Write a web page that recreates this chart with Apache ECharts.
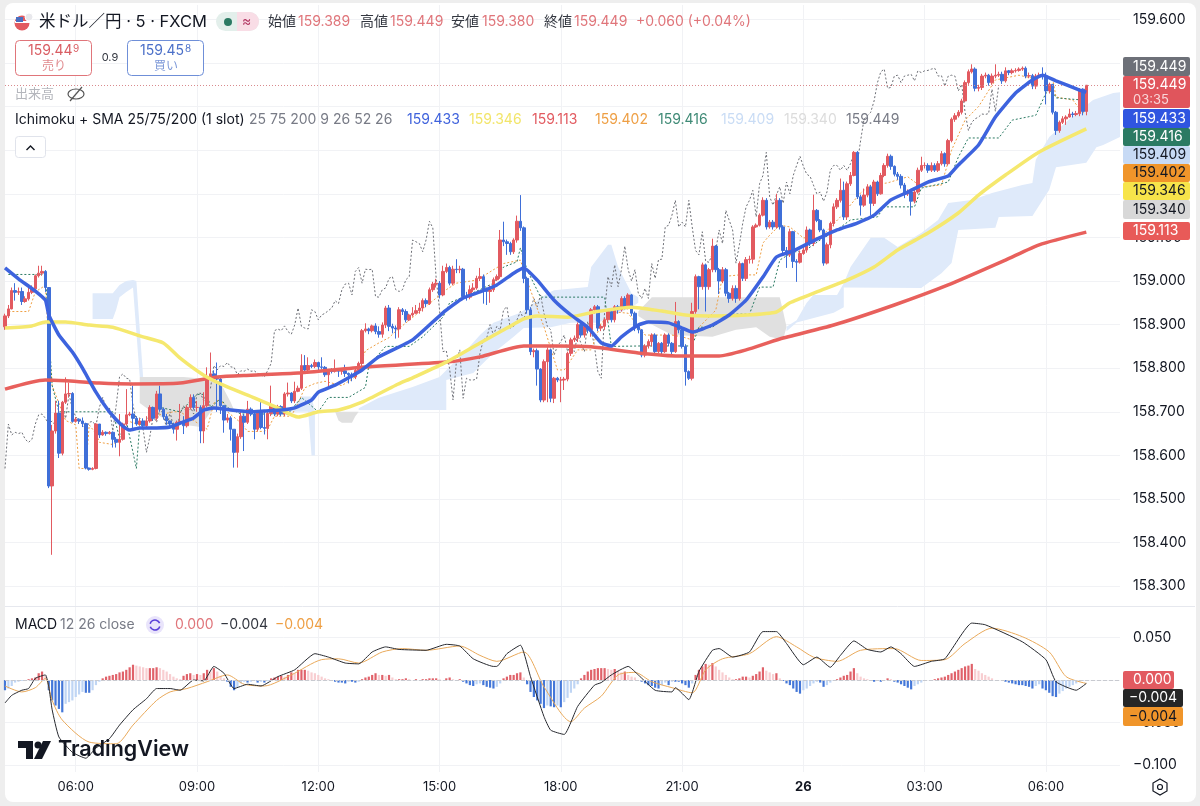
<!DOCTYPE html>
<html lang="ja">

<head>
    <meta charset="UTF-8">
    <title>米ドル／円 · 5 · FXCM</title>
    <script src="https://cdn.jsdelivr.net/npm/echarts@6/dist/echarts.min.js"></script>
    <style>
        html, body { margin: 0; padding: 0; background: #eeeeee; }
        #card { position: absolute; left: 5px; top: 3px; width: 1191px; height: 799px; background: #fff; border-radius: 8px; }
        #main { position: absolute; left: 0; top: 0; width: 1200px; height: 806px; }
    </style>
</head>

<body>
    <div id="card"></div>
    <div id="main"></div>
</body>

<script>
    // candles, 5 minute bars from 04:15
    const opens = [
        158.895,158.920,158.936,158.978,158.974,158.976,158.953,158.959,158.974,158.982,
        159.012,159.018,159.022,158.985,158.530,158.656,158.697,158.605,158.722,158.741,
        158.742,158.678,158.683,158.679,158.673,158.571,158.568,158.570,158.672,158.647,
        158.653,158.650,158.653,158.637,158.630,158.637,158.672,158.693,158.695,158.685,
        158.672,158.679,158.668,158.679,158.710,158.685,158.741,158.706,158.689,158.679,
        158.672,158.660,158.676,158.678,158.668,158.710,158.733,158.710,158.710,158.656,
        158.714,158.780,158.787,158.777,158.775,158.714,158.681,158.686,158.660,158.607,
        158.643,158.690,158.676,158.706,158.695,158.660,158.700,158.664,158.662,158.696,
        158.714,158.695,158.712,158.695,158.741,158.743,158.725,158.747,158.754,158.806,
        158.796,158.806,158.804,158.813,158.803,158.802,158.785,158.794,158.793,158.798,
        158.793,158.794,158.788,158.785,158.780,158.795,158.811,158.886,158.890,158.886,
        158.897,158.884,158.878,158.899,158.938,158.896,158.892,158.890,158.934,158.930,
        158.911,158.922,158.926,158.932,158.938,158.955,158.948,158.980,158.993,158.995,
        158.968,159.022,159.031,158.995,159.027,159.026,159.027,158.964,158.963,158.980,
        158.984,159.006,159.010,158.980,158.976,158.980,159.003,159.010,159.094,159.090,
        159.086,159.067,159.094,159.137,159.122,159.006,158.934,158.838,158.840,158.798,
        158.727,158.815,158.842,158.731,158.777,158.773,158.773,158.775,158.834,158.865,
        158.869,158.900,158.876,158.896,158.888,158.934,158.941,158.892,158.896,158.911,
        158.930,158.911,158.941,158.934,158.960,158.941,158.968,158.926,158.896,158.888,
        158.830,158.851,158.861,158.876,158.838,158.857,158.838,158.876,158.857,158.838,
        158.907,158.888,158.850,158.792,158.777,158.930,159.010,158.987,159.037,158.987,
        159.026,159.080,159.026,159.000,159.026,158.972,158.960,158.983,158.960,159.040,
        159.006,159.049,159.050,159.124,159.128,159.151,159.185,159.124,159.135,159.124,
        159.185,159.124,159.070,159.060,159.113,159.045,159.043,159.063,159.071,159.117,
        159.086,159.162,159.139,159.117,159.041,159.083,159.132,159.170,159.185,159.208,
        159.147,159.223,159.242,159.295,159.193,159.174,159.197,159.216,159.178,159.227,
        159.200,159.242,159.265,159.286,159.263,159.245,159.240,159.220,159.200,159.204,
        159.183,159.204,159.254,159.265,159.265,159.254,159.265,159.254,159.269,159.292,
        159.269,159.322,159.371,159.379,159.387,159.413,159.455,159.480,159.486,159.442,
        159.444,159.470,159.472,159.455,159.470,159.472,159.474,159.459,159.482,159.478,
        159.482,159.483,159.486,159.488,159.470,159.471,159.447,159.470,159.472,159.470,
        159.436,159.451,159.387,159.345,159.364,159.372,159.376,159.383,159.382,159.384,
        159.440,159.389
    ];
    const closes = [
        158.920,158.936,158.978,158.974,158.976,158.953,158.959,158.974,158.982,159.012,
        159.018,159.022,158.985,158.530,158.656,158.697,158.605,158.722,158.741,158.742,
        158.678,158.683,158.679,158.673,158.571,158.568,158.570,158.672,158.647,158.653,
        158.650,158.653,158.637,158.630,158.637,158.672,158.693,158.695,158.685,158.672,
        158.679,158.668,158.679,158.710,158.685,158.741,158.706,158.689,158.679,158.672,
        158.660,158.676,158.678,158.668,158.710,158.733,158.710,158.710,158.656,158.714,
        158.780,158.787,158.777,158.775,158.714,158.681,158.686,158.660,158.607,158.643,
        158.690,158.676,158.706,158.695,158.660,158.700,158.664,158.662,158.696,158.714,
        158.695,158.712,158.695,158.741,158.743,158.725,158.747,158.754,158.806,158.796,
        158.806,158.804,158.813,158.803,158.802,158.785,158.794,158.793,158.798,158.793,
        158.794,158.788,158.785,158.780,158.795,158.811,158.886,158.890,158.886,158.897,
        158.884,158.878,158.899,158.938,158.896,158.892,158.890,158.934,158.930,158.911,
        158.922,158.926,158.932,158.938,158.955,158.948,158.980,158.993,158.995,158.968,
        159.022,159.031,158.995,159.027,159.026,159.027,158.964,158.963,158.980,158.984,
        159.006,159.010,158.980,158.976,158.980,159.003,159.010,159.094,159.090,159.086,
        159.067,159.094,159.137,159.122,159.006,158.934,158.838,158.840,158.798,158.727,
        158.815,158.842,158.731,158.777,158.773,158.773,158.775,158.834,158.865,158.869,
        158.900,158.876,158.896,158.888,158.934,158.941,158.892,158.896,158.911,158.930,
        158.911,158.941,158.934,158.960,158.941,158.968,158.926,158.896,158.888,158.830,
        158.851,158.861,158.876,158.838,158.857,158.838,158.876,158.857,158.838,158.907,
        158.888,158.850,158.792,158.777,158.930,159.010,158.987,159.037,158.987,159.026,
        159.080,159.026,159.000,159.026,158.972,158.960,158.983,158.960,159.040,159.006,
        159.049,159.050,159.124,159.128,159.151,159.185,159.124,159.135,159.124,159.185,
        159.124,159.070,159.060,159.113,159.045,159.043,159.063,159.071,159.117,159.086,
        159.162,159.139,159.117,159.041,159.083,159.132,159.170,159.185,159.208,159.147,
        159.223,159.242,159.295,159.193,159.174,159.197,159.216,159.178,159.227,159.200,
        159.242,159.265,159.286,159.263,159.245,159.240,159.220,159.200,159.204,159.183,
        159.204,159.254,159.265,159.265,159.254,159.265,159.254,159.269,159.292,159.269,
        159.322,159.371,159.379,159.387,159.413,159.455,159.480,159.486,159.442,159.444,
        159.470,159.472,159.455,159.470,159.472,159.474,159.459,159.482,159.478,159.482,
        159.483,159.486,159.488,159.470,159.471,159.447,159.470,159.472,159.470,159.436,
        159.451,159.387,159.345,159.364,159.372,159.376,159.383,159.382,159.384,159.440,
        159.389,159.449
    ];
    const lows = [
        158.888,158.915,158.935,158.955,158.968,158.945,158.950,158.955,158.970,158.980,
        159.008,159.012,158.975,158.525,158.372,158.650,158.594,158.600,158.718,158.733,
        158.675,158.675,158.672,158.665,158.568,158.565,158.566,158.568,158.640,158.645,
        158.645,158.648,158.618,158.618,158.598,158.634,158.668,158.690,158.660,158.668,
        158.668,158.660,158.665,158.675,158.680,158.680,158.700,158.682,158.670,158.665,
        158.650,158.634,158.672,158.649,158.664,158.705,158.705,158.700,158.628,158.628,
        158.710,158.775,158.770,158.700,158.695,158.652,158.675,158.634,158.572,158.572,
        158.638,158.610,158.672,158.690,158.637,158.655,158.660,158.648,158.637,158.690,
        158.690,158.690,158.690,158.690,158.735,158.720,158.720,158.745,158.750,158.790,
        158.790,158.800,158.800,158.795,158.797,158.780,158.757,158.788,158.790,158.780,
        158.785,158.780,158.765,158.770,158.775,158.790,158.805,158.882,158.878,158.882,
        158.878,158.870,158.870,158.892,158.885,158.880,158.868,158.870,158.922,158.905,
        158.908,158.918,158.925,158.925,158.930,158.940,158.945,158.975,158.985,158.960,
        158.965,159.018,158.990,158.990,159.018,159.018,158.958,158.955,158.958,158.975,
        158.980,159.000,158.948,158.945,158.950,158.975,159.000,159.005,159.080,159.060,
        159.060,159.062,159.088,159.115,158.995,158.925,158.830,158.825,158.760,158.722,
        158.722,158.722,158.722,158.720,158.768,158.722,158.750,158.770,158.828,158.860,
        158.860,158.870,158.870,158.880,158.872,158.925,158.885,158.885,158.888,158.905,
        158.905,158.905,158.925,158.930,158.935,158.935,158.920,158.885,158.880,158.825,
        158.825,158.845,158.850,158.832,158.835,158.832,158.835,158.850,158.832,158.835,
        158.880,158.845,158.760,158.773,158.772,158.925,158.935,158.980,158.930,158.980,
        159.020,159.020,158.970,158.995,158.965,158.950,158.955,158.950,158.955,159.000,
        159.000,159.040,159.040,159.122,159.125,159.148,159.118,159.120,159.118,159.120,
        159.118,159.062,159.030,159.055,159.030,158.998,159.040,159.060,159.065,159.080,
        159.080,159.135,159.112,159.035,159.038,159.075,159.125,159.165,159.180,159.140,
        159.140,159.218,159.240,159.188,159.150,159.170,159.192,159.150,159.172,159.195,
        159.198,159.238,159.260,159.255,159.240,159.232,159.212,159.190,159.195,159.150,
        159.178,159.200,159.250,159.258,159.248,159.250,159.250,159.250,159.265,159.262,
        159.265,159.318,159.365,159.375,159.382,159.410,159.450,159.476,159.435,159.435,
        159.438,159.465,159.448,159.450,159.465,159.468,159.452,159.455,159.472,159.474,
        159.478,159.480,159.482,159.465,159.465,159.440,159.440,159.465,159.462,159.405,
        159.430,159.382,159.335,159.340,159.360,159.358,159.375,159.375,159.378,159.378,
        159.380,159.380
    ];
    const highs = [
        158.925,158.945,158.985,158.995,158.985,158.985,158.965,158.985,158.990,159.015,
        159.035,159.035,159.025,158.985,158.670,158.725,158.725,158.725,158.779,158.767,
        158.745,158.688,158.685,158.687,158.675,158.572,158.573,158.674,158.672,158.658,
        158.655,158.656,158.655,158.642,158.695,158.675,158.752,158.700,158.760,158.690,
        158.685,158.685,158.690,158.715,158.712,158.748,158.760,158.710,158.695,158.680,
        158.675,158.680,158.718,158.690,158.715,158.740,158.740,158.725,158.715,158.745,
        158.802,158.836,158.795,158.813,158.778,158.715,158.695,158.690,158.660,158.650,
        158.700,158.695,158.725,158.710,158.700,158.703,158.725,158.700,158.700,158.760,
        158.715,158.716,158.715,158.745,158.767,158.745,158.769,158.760,158.832,158.830,
        158.825,158.810,158.820,158.815,158.825,158.805,158.797,158.800,158.820,158.800,
        158.800,158.808,158.790,158.790,158.800,158.815,158.890,158.903,158.893,158.900,
        158.903,158.896,158.905,158.943,158.945,158.902,158.898,158.940,158.938,158.935,
        158.925,158.940,158.945,158.950,158.960,158.960,158.985,158.998,159.005,159.000,
        159.035,159.040,159.035,159.035,159.050,159.035,159.030,158.975,158.990,158.995,
        159.012,159.030,159.015,158.985,158.990,159.008,159.015,159.117,159.136,159.095,
        159.090,159.098,159.150,159.197,159.125,159.010,158.940,158.845,158.845,158.800,
        158.820,158.848,158.845,158.780,158.780,158.780,158.780,158.838,158.870,158.875,
        158.905,158.905,158.900,158.900,158.938,158.945,158.945,158.900,158.915,158.935,
        158.935,158.945,158.945,158.965,158.965,158.972,158.970,158.930,158.895,158.890,
        158.855,158.866,158.880,158.880,158.860,158.860,158.880,158.880,158.860,158.952,
        158.910,158.890,158.855,158.795,158.950,159.015,159.012,159.042,159.040,159.030,
        159.097,159.082,159.030,159.032,159.030,158.975,158.990,158.990,159.045,159.042,
        159.055,159.058,159.128,159.132,159.155,159.192,159.190,159.140,159.140,159.200,
        159.190,159.128,159.078,159.120,159.115,159.050,159.070,159.078,159.125,159.120,
        159.198,159.165,159.142,159.120,159.088,159.136,159.178,159.190,159.235,159.228,
        159.228,159.250,159.298,159.298,159.198,159.212,159.222,159.220,159.232,159.230,
        159.248,159.270,159.292,159.290,159.265,159.250,159.245,159.225,159.210,159.205,
        159.210,159.260,159.285,159.272,159.270,159.272,159.270,159.275,159.298,159.295,
        159.326,159.375,159.385,159.392,159.418,159.460,159.485,159.497,159.490,159.450,
        159.475,159.478,159.475,159.476,159.497,159.480,159.480,159.490,159.484,159.487,
        159.488,159.490,159.492,159.492,159.478,159.475,159.475,159.478,159.490,159.478,
        159.455,159.452,159.390,159.368,159.378,159.380,159.395,159.388,159.390,159.442,
        159.442,159.449
    ];

    // moving averages, [bar index, price] read at the bends of each curve
    const sma25 = [[0,159.030],[4,159.005],[9,158.977],[12,158.956],[13,158.922],[16,158.876],[20,158.837],[23,158.800],[27,158.745],[31,158.700],[35,158.667],[37,158.658],[40,158.663],[45,158.663],[49,158.665],[53,158.677],[56,158.686],[59,158.704],[62,158.709],[67,158.704],[73,158.700],[77,158.702],[82,158.704],[86,158.709],[91,158.727],[93,158.745],[98,158.761],[102,158.778],[106,158.796],[111,158.826],[121,158.865],[130,158.927],[136,158.961],[141,158.975],[146,158.991],[151,159.018],[154,159.030],[158,159.002],[163,158.956],[168,158.922],[173,158.894],[177,158.858],[180,158.851],[183,158.872],[188,158.899],[191,158.906],[197,158.904],[201,158.892],[204,158.883],[210,158.899],[215,158.922],[220,158.956],[225,159.009],[229,159.055],[234,159.069],[240,159.092],[247,159.117],[253,159.133],[258,159.151],[263,159.186],[268,159.204],[274,159.227],[280,159.241],[283,159.266],[289,159.312],[294,159.376],[300,159.431],[305,159.461],[308,159.472],[312,159.459],[319,159.438],[321,159.433]];
    const sma75 = [[0,158.892],[8,158.897],[12,158.906],[18,158.906],[25,158.899],[32,158.894],[40,158.874],[47,158.858],[52,158.823],[59,158.784],[66,158.757],[74,158.732],[81,158.709],[87,158.688],[93,158.700],[99,158.704],[106,158.722],[116,158.761],[121,158.778],[131,158.814],[141,158.858],[149,158.892],[154,158.913],[158,158.920],[167,158.917],[175,158.929],[186,158.940],[195,158.931],[202,158.922],[209,158.920],[220,158.922],[229,158.929],[233,158.950],[241,158.975],[250,159.002],[258,159.032],[265,159.071],[274,159.110],[283,159.156],[289,159.197],[297,159.243],[307,159.296],[321,159.349]];
    const sma200 = [[0,158.752],[12,158.773],[18,158.771],[28,158.766],[38,158.764],[52,158.766],[63,158.780],[73,158.784],[87,158.789],[97,158.796],[107,158.803],[131,158.814],[141,158.826],[154,158.851],[164,158.851],[174,158.849],[188,158.835],[200,158.828],[212,158.828],[220,158.842],[230,158.867],[246,158.899],[264,158.945],[280,158.991],[297,159.048],[307,159.083],[321,159.112]];

    // ichimoku lines
    const conversionLine = [[1,158.930],[7,158.930],[9,158.975],[12,158.990],[13,158.850],[14,158.760],[18,158.680],[21,158.670],[22,158.570],[24,158.570],[25,158.670],[27,158.650],[28,158.630],[32,158.625],[35,158.640],[36,158.680],[40,158.670],[44,158.690],[50,158.700],[52,158.700],[56,158.680],[60,158.660],[62,158.720],[64,158.730],[66,158.700],[70,158.675],[72,158.655],[77,158.655],[78,158.660],[80,158.690],[85,158.690],[87,158.720],[89,158.755],[92,158.765],[95,158.770],[100,158.760],[104,158.780],[106,158.820],[107,158.840],[111,158.858],[114,158.870],[116,158.885],[120,158.910],[131,158.980],[134,158.995],[140,159.002],[148,159.040],[153,159.048],[155,159.000],[160,158.895],[164,158.796],[166,158.796],[170,158.842],[174,158.842],[177,158.904],[181,158.929],[185,158.926],[190,158.876],[198,158.876],[201,158.872],[204,158.865],[206,158.894],[211,158.933],[213,159.010],[218,159.014],[223,159.014],[225,159.087],[227,159.105],[230,159.128],[233,159.124],[237,159.099],[242,159.099],[248,159.147],[254,159.202],[257,159.220],[262,159.225],[268,159.239],[272,159.216],[278,159.220],[281,159.300],[285,159.369],[289,159.400],[294,159.461],[301,159.472],[305,159.465],[308,159.472],[311,159.465],[312,159.422],[317,159.415],[320,159.385],[321,159.402]];
    const baseLine = [[1,159.015],[12,159.015],[14,158.760],[16,158.700],[32,158.700],[34,158.640],[36,158.680],[39,158.570],[40,158.670],[46,158.710],[52,158.700],[57,158.740],[60,158.740],[61,158.710],[64,158.730],[66,158.710],[70,158.695],[84,158.695],[88,158.733],[93,158.700],[96,158.733],[102,158.733],[107,158.756],[108,158.806],[113,158.850],[120,158.850],[124,158.872],[130,158.917],[132,158.950],[135,158.960],[141,158.980],[145,158.995],[148,159.032],[152,159.044],[153,159.076],[155,159.025],[159,158.963],[178,158.963],[180,158.850],[189,158.851],[204,158.851],[206,158.894],[210,158.894],[215,158.924],[221,158.924],[224,158.986],[228,158.986],[230,159.048],[234,159.067],[237,159.067],[242,159.094],[246,159.112],[251,159.140],[259,159.147],[261,159.170],[270,159.170],[272,159.213],[280,159.227],[283,159.284],[286,159.328],[295,159.328],[299,159.369],[306,159.380],[309,159.431],[311,159.436],[312,159.420],[320,159.415],[321,159.416]];
    const laggingSpan = [
        158.570,158.672,158.647,158.653,158.650,158.653,158.637,158.630,158.637,158.672,
        158.693,158.695,158.685,158.672,158.679,158.668,158.679,158.710,158.685,158.741,
        158.706,158.689,158.679,158.672,158.660,158.676,158.678,158.668,158.710,158.733,
        158.710,158.710,158.656,158.714,158.780,158.787,158.777,158.775,158.714,158.681,
        158.686,158.660,158.607,158.643,158.690,158.676,158.706,158.695,158.660,158.700,
        158.664,158.662,158.696,158.714,158.695,158.712,158.695,158.741,158.743,158.725,
        158.747,158.754,158.806,158.796,158.806,158.804,158.813,158.803,158.802,158.785,
        158.794,158.793,158.798,158.793,158.794,158.788,158.785,158.780,158.795,158.811,
        158.886,158.890,158.886,158.897,158.884,158.878,158.899,158.938,158.896,158.892,
        158.890,158.934,158.930,158.911,158.922,158.926,158.932,158.938,158.955,158.948,
        158.980,158.993,158.995,158.968,159.022,159.031,158.995,159.027,159.026,159.027,
        158.964,158.963,158.980,158.984,159.006,159.010,158.980,158.976,158.980,159.003,
        159.010,159.094,159.090,159.086,159.067,159.094,159.137,159.122,159.006,158.934,
        158.838,158.840,158.798,158.727,158.815,158.842,158.731,158.777,158.773,158.773,
        158.775,158.834,158.865,158.869,158.900,158.876,158.896,158.888,158.934,158.941,
        158.892,158.896,158.911,158.930,158.911,158.941,158.934,158.960,158.941,158.968,
        158.926,158.896,158.888,158.830,158.851,158.861,158.876,158.838,158.857,158.838,
        158.876,158.857,158.838,158.907,158.888,158.850,158.792,158.777,158.930,159.010,
        158.987,159.037,158.987,159.026,159.080,159.026,159.000,159.026,158.972,158.960,
        158.983,158.960,159.040,159.006,159.049,159.050,159.124,159.128,159.151,159.185,
        159.124,159.135,159.124,159.185,159.124,159.070,159.060,159.113,159.045,159.043,
        159.063,159.071,159.117,159.086,159.162,159.139,159.117,159.041,159.083,159.132,
        159.170,159.185,159.208,159.147,159.223,159.242,159.295,159.193,159.174,159.197,
        159.216,159.178,159.227,159.200,159.242,159.265,159.286,159.263,159.245,159.240,
        159.220,159.200,159.204,159.183,159.204,159.254,159.265,159.265,159.254,159.265,
        159.254,159.269,159.292,159.269,159.322,159.371,159.379,159.387,159.413,159.455,
        159.480,159.486,159.442,159.444,159.470,159.472,159.455,159.470,159.472,159.474,
        159.459,159.482,159.478,159.482,159.483,159.486,159.488,159.470,159.471,159.447,
        159.470,159.472,159.470,159.436,159.451,159.387,159.345,159.364,159.372,159.376,
        159.383,159.382,159.384,159.440,159.389,159.449
    ];

    // kumo pieces, upper edge then lower edge
    const blueCloudA = [[26,158.972],[32,158.972],[34,158.991],[36,159.000],[38,159.002],[39,159.000],[41,158.780],[40,158.780],[38,158.985],[36,158.975],[34,158.963],[33,158.934],[32,158.913],[26,158.913]];
    const greyCloudB = [[40,158.780],[53,158.780],[60,158.775],[64,158.766],[67,158.722],[68,158.704],[62,158.711],[58,158.665],[50,158.674],[44,158.697],[40,158.720]];
    const blueCloudC = [[85,158.705],[88,158.735],[91,158.735],[92,158.700],[92,158.600],[91,158.600],[90,158.700],[85,158.700]];
    const greyCloudD = [[98,158.700],[105,158.700],[104,158.690],[103,158.675],[100,158.675],[99,158.680]];
    const blueCloudE = [[105,158.708],[111,158.732],[121,158.757],[129,158.780],[137,158.842],[141,158.876],[145,158.904],[153,158.927],[161,158.972],[163,158.979],[173,158.986],[174,159.032],[179,159.083],[180,159.083],[182,159.032],[186,158.972],[188,158.963],[188,158.950],[186,158.940],[176,158.904],[168,158.904],[162,158.894],[154,158.892],[151,158.872],[145,158.835],[139,158.789],[131,158.773],[131,158.704],[111,158.704],[105,158.704]];
    const greyCloudF = [[188,158.930],[192,158.963],[230,158.963],[231,158.930],[232,158.895],[231,158.865],[227,158.872],[223,158.894],[217,158.888],[210,158.872],[198,158.876],[192,158.900],[188,158.920]];
    const blueCloudG = [[232,158.895],[235,158.910],[238,158.950],[240,158.968],[247,158.968],[249,158.995],[251,159.032],[257,159.099],[261,159.099],[265,159.078],[272,159.110],[277,159.140],[280,159.179],[287,159.186],[293,159.202],[302,159.220],[305,159.225],[306,159.278],[310,159.330],[318,159.385],[323,159.415],[329,159.431],[331,159.433],[331,159.330],[326,159.312],[324,159.307],[321,159.271],[312,159.261],[310,159.209],[305,159.149],[295,159.147],[294,159.122],[283,159.117],[281,159.041],[278,159.018],[272,158.984],[249,158.985],[249,158.940],[246,158.927],[235,158.905],[232,158.885]];

    // macd pane
    const macdLine = [[0,-0.027],[2,-0.018],[5,-0.012],[7,-0.010],[9,0.002],[12,0.006],[13,-0.008],[14,-0.035],[16,-0.067],[20,-0.085],[24,-0.092],[27,-0.080],[31,-0.069],[34,-0.053],[38,-0.035],[42,-0.022],[45,-0.010],[49,-0.010],[52,-0.012],[56,0.000],[59,-0.001],[62,0.016],[65,0.008],[68,-0.010],[72,-0.005],[76,-0.007],[81,0.004],[86,0.012],[92,0.031],[96,0.027],[101,0.020],[105,0.019],[109,0.033],[113,0.039],[117,0.036],[125,0.035],[131,0.042],[135,0.040],[139,0.025],[145,0.016],[146,0.016],[149,0.031],[153,0.041],[156,0.004],[160,-0.043],[162,-0.059],[166,-0.064],[170,-0.031],[175,-0.006],[177,-0.003],[180,0.006],[185,0.016],[188,0.006],[193,-0.012],[198,-0.014],[199,-0.009],[203,-0.023],[206,0.010],[210,0.035],[212,0.037],[216,0.027],[221,0.033],[225,0.057],[229,0.057],[232,0.043],[237,0.018],[241,0.027],[245,0.015],[248,0.029],[252,0.046],[256,0.036],[260,0.033],[263,0.039],[266,0.031],[270,0.016],[275,0.022],[279,0.025],[287,0.067],[291,0.065],[302,0.045],[309,0.024],[312,-0.002],[318,-0.012],[321,-0.004]];
    const signalLine = [[0,-0.007],[5,-0.014],[9,-0.009],[12,0.002],[14,-0.024],[17,-0.047],[25,-0.073],[33,-0.075],[38,-0.053],[45,-0.024],[49,-0.014],[54,-0.010],[60,-0.002],[66,0.006],[71,-0.005],[77,-0.007],[85,0.006],[94,0.024],[99,0.025],[105,0.020],[112,0.033],[118,0.037],[125,0.035],[135,0.040],[141,0.029],[146,0.022],[154,0.033],[160,-0.008],[168,-0.049],[172,-0.033],[177,-0.019],[182,0.006],[187,0.009],[192,-0.002],[198,-0.009],[204,-0.015],[208,0.012],[213,0.025],[221,0.031],[229,0.051],[235,0.039],[240,0.027],[247,0.022],[254,0.035],[264,0.037],[272,0.023],[279,0.024],[285,0.043],[293,0.061],[302,0.051],[310,0.033],[315,0.004],[321,-0.004]];
    const macdHist = [
        -0.012,-0.010,-0.007,-0.003,-0.002,-0.001,0.000,0.001,0.002,0.003,
        0.008,0.010,0.005,-0.012,-0.024,-0.030,-0.034,-0.038,-0.028,-0.026,
        -0.024,-0.020,-0.017,-0.014,-0.015,-0.015,-0.012,-0.006,-0.002,0.002,
        0.004,0.005,0.006,0.007,0.009,0.010,0.012,0.015,0.018,0.017,
        0.016,0.015,0.014,0.014,0.014,0.015,0.014,0.012,0.010,0.007,
        0.004,0.002,0.001,0.005,0.007,0.008,0.006,0.007,0.006,0.008,
        0.012,0.010,0.014,0.010,0.005,0.002,-0.002,-0.008,-0.012,-0.009,
        -0.004,-0.002,-0.003,-0.002,-0.001,-0.003,-0.002,-0.003,-0.001,0.002,
        0.003,0.004,0.005,0.004,0.006,0.009,0.008,0.012,0.012,0.012,
        0.011,0.009,0.008,0.006,0.004,0.002,0.001,-0.001,-0.002,-0.003,
        -0.003,-0.004,-0.002,-0.002,-0.003,-0.002,0.001,0.003,0.004,0.006,
        0.008,0.006,0.006,0.005,0.006,0.003,0.001,0.001,0.001,0.002,
        0.001,0.000,0.001,0.000,0.001,0.001,0.002,0.002,0.002,0.001,
        0.000,0.002,0.003,0.001,0.000,0.001,-0.002,-0.004,-0.006,-0.007,
        -0.005,-0.004,-0.006,-0.008,-0.009,-0.010,-0.008,-0.004,0.002,0.004,
        0.006,0.006,0.008,0.009,0.003,-0.005,-0.014,-0.020,-0.024,-0.028,
        -0.033,-0.030,-0.031,-0.032,-0.030,-0.032,-0.026,-0.021,-0.015,-0.010,
        -0.005,0.002,0.006,0.010,0.012,0.013,0.014,0.014,0.014,0.013,
        0.012,0.013,0.011,0.009,0.010,0.006,0.004,0.003,0.000,-0.002,
        -0.004,-0.006,-0.007,-0.009,-0.010,-0.006,-0.003,-0.006,-0.002,-0.002,
        -0.002,-0.004,-0.006,-0.009,-0.004,0.006,0.012,0.016,0.019,0.018,
        0.020,0.016,0.012,0.009,0.006,0.003,0.001,0.001,0.002,0.004,
        0.004,0.003,0.005,0.007,0.010,0.015,0.011,0.009,0.007,0.008,
        0.002,-0.001,-0.004,-0.006,-0.010,-0.014,-0.016,-0.012,-0.010,-0.007,
        -0.004,-0.002,-0.003,-0.008,-0.006,-0.003,-0.001,0.001,0.003,0.005,
        0.006,0.010,0.014,0.008,0.004,0.002,0.001,0.000,-0.002,-0.001,
        -0.002,-0.001,0.002,0.001,-0.002,-0.003,-0.005,-0.007,-0.009,-0.011,
        -0.007,-0.005,-0.003,-0.001,0.000,0.000,0.001,0.002,0.003,0.004,
        0.006,0.008,0.010,0.012,0.014,0.016,0.017,0.019,0.013,0.011,
        0.008,0.006,0.004,0.002,0.000,0.000,-0.001,-0.002,-0.003,-0.004,
        -0.005,-0.006,-0.006,-0.007,-0.008,-0.010,-0.007,-0.005,-0.010,-0.012,
        -0.015,-0.019,-0.020,-0.016,-0.013,-0.010,-0.008,-0.006,-0.004,-0.002,
        -0.001,0.000
    ];

    const priceTicks = [159.6, 159.5, 159.4, 159.3, 159.2, 159.1, 159.0, 158.9, 158.8, 158.7, 158.6, 158.5, 158.4, 158.3];
    // the labels from 159.500 to 159.200 sit behind the price tags
    const priceLabels = [159.6, 159.1, 159.0, 158.9, 158.8, 158.7, 158.6, 158.5, 158.4, 158.3];
    const macdTicks = [0.05, 0, -0.05, -0.1];
    const timeTicks = ['06:00', '09:00', '12:00', '15:00', '18:00', '21:00', '26', '03:00'];

    // time axis, 10 empty bars are left after the last candle
    var categories = [];
    for (let i = 0; i < 332; i++) {
        let mins = (4 * 60 + 15 + 5 * i) % 1440;
        let hh = String(Math.floor(mins / 60)).padStart(2, '0');
        let mm = String(mins % 60).padStart(2, '0');
        categories.push(mins === 0 ? '26' : hh + ':' + mm);
    }
    function isTimeTick(index, value) {
        return timeTicks.indexOf(value) !== -1;
    }

    var candleData = closes.map(function (c, i) {
        return [opens[i], c, lows[i], highs[i]];
    });

    const RED = '#e25a60';
    const BLUE = '#3f6fd8';
    const CLOUD_BLUE = '#dfeafa';
    const CLOUD_GREY = '#e0e0e0';
    const FONT = 'Inter, "Noto Sans CJK JP", sans-serif';

    function cloudSeries(points, fill) {
        return {
            type: 'custom',
            xAxisIndex: 0,
            yAxisIndex: 0,
            z: 1,
            silent: true,
            data: [points[0]],
            renderItem: function (params, api) {
                return {
                    type: 'polygon',
                    shape: { points: points.map(function (p) { return api.coord(p); }) },
                    style: { fill: fill }
                };
            }
        };
    }

    function lineSeries(data, color, width, dash, axisIndex, z, smooth) {
        return {
            type: 'line',
            xAxisIndex: axisIndex,
            yAxisIndex: axisIndex,
            data: data,
            symbol: 'none',
            smooth: smooth,
            z: z,
            silent: true,
            lineStyle: { color: color, width: width, type: dash }
        };
    }

    function txt(x, y, text, fill, size, extra) {
        return {
            type: 'text',
            z: 100,
            style: Object.assign({
                x: x, y: y, text: text, fill: fill, fontSize: size || 14,
                fontFamily: FONT, verticalAlign: 'middle', align: 'left'
            }, extra || {})
        };
    }

    function tag(y, h, bg, fg, text, w) {
        return [
            { type: 'rect', z: 99, shape: { x: 1123, y: y, width: w || 67, height: h, r: 2 }, style: { fill: bg } },
            txt(1133, y + h / 2, text, fg, 14)
        ];
    }

    var graphics = [].concat(
        // symbol row
        [
            { type: 'circle', z: 100, shape: { cx: 22, cy: 23, r: 7.5 }, style: { fill: '#e25a60' } },
            { type: 'rect', z: 100, shape: { x: 15, y: 21, width: 15, height: 2 }, style: { fill: '#ffffff' } },
            { type: 'rect', z: 100, shape: { x: 16, y: 17, width: 7, height: 5 }, style: { fill: '#4a6fc0' } },
            { type: 'circle', z: 100, shape: { cx: 29, cy: 17, r: 4 }, style: { fill: '#e8e8ec', stroke: '#ffffff' } },
            txt(39, 22, '米ドル／円 · 5 · FXCM', '#131722', 16.5),
            { type: 'rect', z: 99, shape: { x: 216, y: 12, width: 43, height: 19, r: 9.5 }, style: { fill: '#e3efeb' } },
            { type: 'rect', z: 99, shape: { x: 237, y: 12, width: 22, height: 19, r: [0, 9.5, 9.5, 0] }, style: { fill: '#f9dde6' } },
            { type: 'circle', z: 100, shape: { cx: 228, cy: 22, r: 4 }, style: { fill: '#2b7a63' } },
            txt(242, 22, '≈', '#b0305e', 14),
            txt(268, 22, '始値', '#333740', 14),
            txt(298, 22, '159.389', '#e0757a', 14),
            txt(360, 22, '高値', '#333740', 14),
            txt(390, 22, '159.449', '#e0757a', 14),
            txt(451, 22, '安値', '#333740', 14),
            txt(482, 22, '159.380', '#e0757a', 14),
            txt(544, 22, '終値', '#333740', 14),
            txt(574, 22, '159.449', '#e0757a', 14),
            txt(636, 22, '+0.060 (+0.04%)', '#e0757a', 14)
        ],
        // sell / buy boxes
        [
            { type: 'rect', z: 99, shape: { x: 15.5, y: 40.5, width: 76, height: 35, r: 4 }, style: { fill: '#fff', stroke: '#e0757a', lineWidth: 1 } },
            txt(28, 51, '159.44', '#d95c62', 14),
            txt(73, 49, '9', '#d95c62', 10),
            txt(54, 66, '売り', '#e0898d', 12, { align: 'center' }),
            txt(110, 58, '0.9', '#333740', 11, { align: 'center' }),
            { type: 'rect', z: 99, shape: { x: 127.5, y: 40.5, width: 76, height: 35, r: 4 }, style: { fill: '#fff', stroke: '#6f8fd8', lineWidth: 1 } },
            txt(140, 51, '159.45', '#4a6fc8', 14),
            txt(185, 49, '8', '#4a6fc8', 10),
            txt(166, 66, '買い', '#7d98d8', 12, { align: 'center' })
        ],
        // indicators legend
        [
            txt(15, 94, '出来高', '#b4b6bc', 13),
            { type: 'ellipse', z: 100, shape: { cx: 76, cy: 94, rx: 8, ry: 5 }, style: { fill: 'none', stroke: '#555', lineWidth: 1.2 } },
            { type: 'line', z: 100, shape: { x1: 70, y1: 101, x2: 82, y2: 87 }, style: { stroke: '#555', lineWidth: 1.2 } },
            txt(15, 120, 'Ichimoku + SMA 25/75/200 (1 slot)', '#131722', 14),
            txt(249, 120, '25 75 200 9 26 52 26', '#787b86', 14),
            txt(407, 120, '159.433', '#3f62dc', 14),
            txt(469, 120, '159.346', '#f2e56a', 14),
            txt(532, 120, '159.113', '#e25a60', 14),
            txt(595, 120, '159.402', '#ee9f44', 14),
            txt(658, 120, '159.416', '#3f8a76', 14),
            txt(721, 120, '159.409', '#c9dcf5', 14),
            txt(784, 120, '159.340', '#dcdcdc', 14),
            txt(846, 120, '159.449', '#787b86', 14),
            { type: 'rect', z: 99, shape: { x: 15.5, y: 136.5, width: 30, height: 21, r: 3 }, style: { fill: '#fff', stroke: '#e0e3eb', lineWidth: 1 } },
            { type: 'polyline', z: 100, shape: { points: [[26.5, 150], [30.5, 146], [34.5, 150]] }, style: { fill: 'none', stroke: '#131722', lineWidth: 1.4 } }
        ],
        // price tags on the right scale
        tag(57, 19, '#6d7078', '#ffffff', '159.449'),
        [
            { type: 'rect', z: 99, shape: { x: 1123, y: 76, width: 67, height: 32, r: 2 }, style: { fill: '#e0555c' } },
            txt(1133, 85, '159.449', '#ffffff', 14),
            txt(1133, 100, '03:35', '#f9d6d8', 13)
        ],
        tag(109, 19, '#2f55e0', '#ffffff', '159.433'),
        tag(128, 18, '#2b7a63', '#ffffff', '159.416'),
        tag(146, 18, '#c7daf5', '#131722', '159.409'),
        tag(164, 18, '#f0952a', '#131722', '159.402'),
        tag(182, 18, '#f7e44a', '#131722', '159.346'),
        tag(200, 19, '#d8d8d8', '#131722', '159.340'),
        tag(222, 18, '#e85a58', '#ffffff', '159.113'),
        // macd legend and tags
        [
            { type: 'line', z: 2, shape: { x1: 5, y1: 606.5, x2: 1195, y2: 606.5 }, style: { stroke: '#e6e8ee', lineWidth: 1 } },
            txt(15, 625, 'MACD', '#131722', 14),
            txt(60, 625, '12 26 close', '#787b86', 14),
            { type: 'circle', z: 99, shape: { cx: 155, cy: 625, r: 9 }, style: { fill: '#e9e4fb' } },
            { type: 'arc', z: 100, shape: { cx: 155, cy: 625, r: 5, startAngle: 0.3, endAngle: 2.8 }, style: { fill: 'none', stroke: '#5a3fd8', lineWidth: 1.6 } },
            { type: 'arc', z: 100, shape: { cx: 155, cy: 625, r: 5, startAngle: 3.4, endAngle: 5.9 }, style: { fill: 'none', stroke: '#5a3fd8', lineWidth: 1.6 } },
            txt(175, 625, '0.000', '#e0757a', 14),
            txt(220, 625, '−0.004', '#333740', 14),
            txt(275, 625, '−0.004', '#ee9f44', 14),
            { type: 'rect', z: 99, shape: { x: 1123, y: 671, width: 51, height: 18, r: 2 }, style: { fill: '#e25a60' } },
            txt(1133, 680, '0.000', '#ffffff', 14),
            { type: 'rect', z: 99, shape: { x: 1123, y: 689, width: 60, height: 18, r: 2 }, style: { fill: '#262626' } },
            txt(1129, 698, '−0.004', '#ffffff', 14),
            { type: 'rect', z: 99, shape: { x: 1123, y: 707, width: 60, height: 19, r: 2 }, style: { fill: '#f0952a' } },
            txt(1129, 717, '−0.004', '#131722', 14)
        ],
        // tradingview mark
        [
            { type: 'polygon', z: 100, shape: { points: [[18, 741], [33, 741], [33, 759], [26, 759], [26, 748], [18, 748]] }, style: { fill: '#131722' } },
            { type: 'circle', z: 100, shape: { cx: 38, cy: 745, r: 3.5 }, style: { fill: '#131722' } },
            { type: 'polygon', z: 100, shape: { points: [[43, 741], [51, 741], [42, 759], [34, 759]] }, style: { fill: '#131722' } },
            txt(58, 750, 'TradingView', '#131722', 21.5, { fontWeight: 600 })
        ],
        // settings hexagon
        [
            { type: 'polygon', z: 100, shape: { points: [[1160, 779], [1167, 783], [1167, 791], [1160, 795], [1153, 791], [1153, 783]] }, style: { fill: 'none', stroke: '#131722', lineWidth: 1.2 } },
            { type: 'circle', z: 100, shape: { cx: 1160, cy: 787, r: 2.5 }, style: { fill: 'none', stroke: '#131722', lineWidth: 1.2 } }
        ]
    );

    var chartDom = document.getElementById('main');
    var myChart = echarts.init(chartDom);

    var splitStyle = { show: true, interval: isTimeTick, lineStyle: { color: '#f1f2f5', width: 1 } };

    var option = {
        animation: false,
        backgroundColor: 'transparent',
        textStyle: { fontFamily: FONT },
        grid: [
            { left: 5, right: 80, top: 5, height: 601 },
            { left: 5, right: 80, top: 606, height: 166 }
        ],
        xAxis: [
            {
                type: 'category', gridIndex: 0, data: categories, boundaryGap: false,
                axisLine: { show: false }, axisTick: { show: false }, axisLabel: { show: false },
                splitLine: splitStyle
            },
            {
                type: 'category', gridIndex: 1, data: categories, boundaryGap: false,
                axisLine: { show: false }, axisTick: { show: false },
                axisLabel: {
                    interval: isTimeTick, color: '#131722', fontSize: 13, margin: 9, hideOverlap: false,
                    formatter: function (v) { return v === '26' ? '{b|26}' : v; },
                    rich: { b: { fontWeight: 700, fontSize: 13, color: '#131722' } }
                },
                splitLine: splitStyle
            }
        ],
        yAxis: [
            {
                type: 'value', gridIndex: 0, position: 'right', min: 158.2546, max: 159.633,
                axisLine: { show: false },
                axisTick: { show: false, customValues: priceTicks },
                axisLabel: {
                    customValues: priceLabels, color: '#131722', fontSize: 14, margin: 13,
                    formatter: function (v) { return v.toFixed(3); }
                },
                splitLine: { show: true, lineStyle: { color: '#f1f2f5', width: 1 } }
            },
            {
                type: 'value', gridIndex: 1, position: 'right', min: -0.1082, max: 0.0871,
                axisLine: { show: false },
                axisTick: { show: false, customValues: macdTicks },
                axisLabel: {
                    customValues: macdTicks, color: '#131722', fontSize: 14, margin: 13,
                    formatter: function (v) { return v.toFixed(3).replace('-', '−'); }
                },
                splitLine: { show: true, lineStyle: { color: '#f1f2f5', width: 1 } }
            }
        ],
        series: [
            cloudSeries(blueCloudA, CLOUD_BLUE),
            cloudSeries(greyCloudB, CLOUD_GREY),
            cloudSeries(blueCloudC, CLOUD_BLUE),
            cloudSeries(greyCloudD, CLOUD_GREY),
            cloudSeries(blueCloudE, CLOUD_BLUE),
            cloudSeries(greyCloudF, CLOUD_GREY),
            cloudSeries(blueCloudG, CLOUD_BLUE),
            lineSeries(laggingSpan, '#6d6f76', 1, [2, 2], 0, 2, false),
            lineSeries(conversionLine, '#ee9f44', 1, [2, 2], 0, 2, false),
            lineSeries(baseLine, '#2b7a63', 1, [2, 2], 0, 2, false),
            {
                type: 'candlestick',
                xAxisIndex: 0,
                yAxisIndex: 0,
                data: candleData,
                barWidth: 3,
                z: 3,
                silent: true,
                itemStyle: { color: RED, color0: BLUE, borderColor: RED, borderColor0: BLUE, borderWidth: 1 },
                markLine: {
                    silent: true,
                    symbol: 'none',
                    label: { show: false },
                    lineStyle: { color: '#d98a8d', type: [1, 2], width: 1 },
                    data: [{ yAxis: 159.449 }]
                }
            },
            lineSeries(sma200, '#e8605c', 3.5, 'solid', 0, 4, 0.2),
            lineSeries(sma75, '#f5e86e', 3.5, 'solid', 0, 4, 0.2),
            lineSeries(sma25, '#3d63de', 3.5, 'solid', 0, 5, 0.15),
            {
                type: 'bar',
                xAxisIndex: 1,
                yAxisIndex: 1,
                data: macdHist,
                barWidth: 2.2,
                silent: true,
                z: 2,
                itemStyle: {
                    color: function (p) {
                        let prev = p.dataIndex > 0 ? macdHist[p.dataIndex - 1] : 0;
                        if (p.value >= 0) {
                            return p.value >= prev ? '#e0626a' : '#f8ced1';
                        }
                        return p.value <= prev ? '#4477d8' : '#bfd5f4';
                    }
                },
                markLine: {
                    silent: true,
                    symbol: 'none',
                    label: { show: false },
                    lineStyle: { color: '#c8cad0', type: 'dashed', width: 1 },
                    data: [{ yAxis: 0 }]
                }
            },
            lineSeries(macdLine, '#26282e', 1, 'solid', 1, 4, 0.15),
            lineSeries(signalLine, '#e9a95a', 1, 'solid', 1, 3, 0.25)
        ],
        graphic: graphics
    };

    myChart.setOption(option);
</script>

</html>
